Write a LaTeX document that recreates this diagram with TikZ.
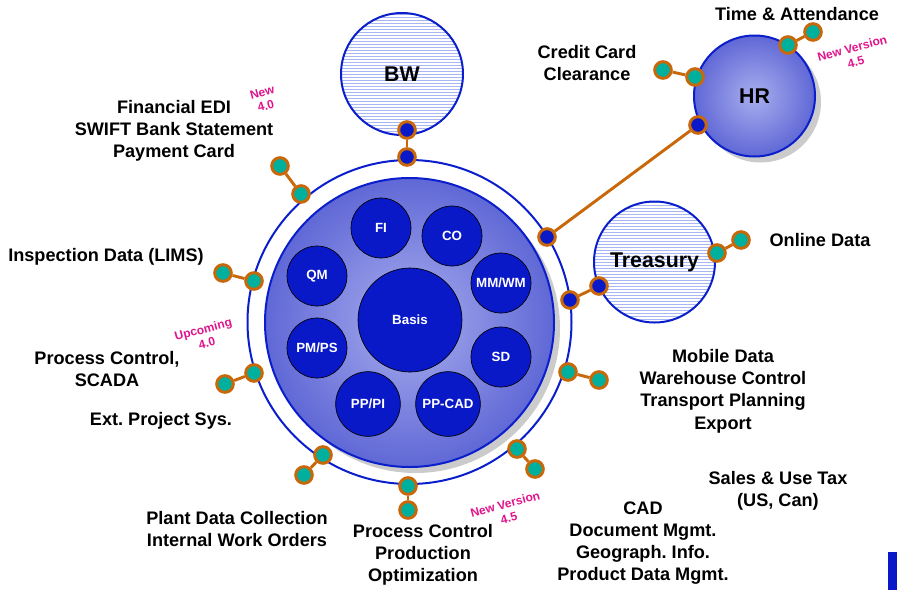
\documentclass[tikz,border=0pt]{standalone}
\usepackage{fontspec}
\setmainfont{Liberation Sans}
\definecolor{modblue}{HTML}{0A19C8}
\definecolor{ringblue}{HTML}{0A1ECC}
\definecolor{plugorange}{HTML}{C8680A}
\definecolor{plugteal}{HTML}{00B09E}
\definecolor{notepink}{HTML}{E0148C}
\definecolor{discin}{HTML}{A8AEEE}
\definecolor{discout}{HTML}{6068D6}
\definecolor{hatchblue}{HTML}{A8B6F4}
\definecolor{shadowgray}{HTML}{CBCBCB}
\tikzset{
    ring/.style={circle, draw=ringblue, line width=1.5pt, inner sep=0pt}, % 蓝色圆环
    disc/.style={ring, inner color=discin, outer color=discout}, % 渐变圆盘
    hatched/.style={ring, fill=white, path picture={
        \foreach \k in {-21,...,21}
            \draw[hatchblue, line width=0.7pt]
                ([yshift=\k*2.25pt]path picture bounding box.west) --
                ([yshift=\k*2.25pt]path picture bounding box.east);
    }}, % 横线填充
    module/.style={circle, draw=black, line width=0.5pt, fill=modblue, text=white, inner sep=0pt,
        font=\bfseries\fontsize{10}{12}\selectfont},
    plug/.style={circle, draw=plugorange, line width=2.2pt, inner sep=0pt, minimum size=12.5pt},
    green plug/.style={plug, fill=plugteal},
    blue plug/.style={plug, fill=modblue},
    link/.style={draw=plugorange, line width=2.2pt},
    addon/.style={align=center, font=\bfseries\fontsize{13.6}{16.7}\selectfont},
    big/.style={font=\bfseries\fontsize{16}{18}\selectfont},
    note/.style={text=notepink, align=center, rotate=15, inner sep=0pt,
        font=\bfseries\fontsize{9}{10.5}\selectfont}
}
\begin{document}
\begin{tikzpicture}[x=0.75pt, y=-0.75pt]
    \useasboundingbox (0,0) rectangle (897,590);

    % --- 1. 阴影 ---
    \node[circle, fill=shadowgray, minimum size=216.75pt] (discshadow) at (415.5,328.5) {};
    \node[circle, fill=shadowgray, minimum size=90.75pt] (hrshadow) at (760.5,102) {};

    % --- 2. 中心系统 ---
    \node[ring, minimum size=243pt] (outer) at (409.5,322) {};
    \node[disc, minimum size=216.75pt] (core) at (409.5,322.5) {};
    \node[module, minimum size=78pt] (basis) at (410,320) {Basis};
    \foreach \name / \x / \y / \size / \labelText in {
        fi/381/228/45/{FI},
        co/452/236/45/{CO},
        mm/501/283/45/{MM/WM},
        sd/501/357/45/{SD},
        ppcad/448/404/48.5/{PP-CAD},
        pppi/368/404/48.5/{PP/PI},
        pmps/317/348/45/{PM/PS},
        qm/317/276/45/{QM}
    } {
        \node[module, minimum size=\size pt] (\name) at (\x,\y) {\labelText};
    }

    % --- 3. 外围系统 ---
    \node[hatched, minimum size=91.5pt, big] (bw) at (402,74) {BW};
    \node[hatched, minimum size=90.75pt, big] (treasury) at (654.5,262) {Treasury};
    \node[disc, minimum size=90.75pt, big] (hr) at (754.5,96) {HR};

    % --- 4. 接口: 名称 / 内点 / 外点 ---
    \foreach \name / \ax / \ay / \bx / \by in {
        fin/301/194/280/166,
        insp/254/281/223/273,
        scada/254/373/225/384,
        plant/323/455/304/475,
        proc/408/486/408/510,
        cad/517/449/535/469,
        mobile/568/372/599/380,
        online/717/253/741/240,
        credit/695/77/663/70,
        time/788/45/813/32
    } {
        \node[green plug] (\name-in) at (\ax,\ay) {};
        \node[green plug] (\name-out) at (\bx,\by) {};
        \draw[link] (\name-in) -- (\name-out);
    }
    \foreach \name / \ax / \ay / \bx / \by in {
        bwlink/407/157/407/130,
        trlink/570/300/599/286,
        hrlink/547/237/698/125
    } {
        \node[blue plug] (\name-in) at (\ax,\ay) {};
        \node[blue plug] (\name-out) at (\bx,\by) {};
        \draw[link] (\name-in) -- (\name-out);
    }

    % --- 5. 文字 ---
    \node[addon] (fintext) at (174,131) {Financial EDI\\SWIFT Bank Statement\\Payment Card};
    \node[addon] (insptext) at (106,257) {Inspection Data (LIMS)};
    \node[addon] (scadatext) at (107,369) {Process Control,\\SCADA};
    \node[addon] (exttext) at (161,421) {Ext.\ Project Sys.};
    \node[addon] (planttext) at (237,529) {Plant Data Collection\\Internal Work Orders};
    \node[addon] (proctext) at (423,555) {Process Control\\Production\\Optimization};
    \node[addon] (cadtext) at (643,543) {CAD\\Document Mgmt.\\Geograph.\ Info.\\Product Data Mgmt.};
    \node[addon] (taxtext) at (778,491) {Sales \& Use Tax\\(US, Can)};
    \node[addon] (mobiletext) at (723,391) {Mobile Data\\Warehouse Control\\Transport Planning\\Export};
    \node[addon] (onlinetext) at (820,240) {Online Data};
    \node[addon] (credittext) at (587,63) {Credit Card\\Clearance};
    \node[addon] (timetext) at (797,14) {Time \& Attendance};

    % --- 6. 版本标记 ---
    \node[note] (newfin) at (264,99) {New\\4.0};
    \node[note] (upcoming) at (205,336) {Upcoming\\4.0};
    \node[note] (newproc) at (507,511) {New Version\\4.5};
    \node[note] (newhr) at (854,55) {New Version\\4.5};

    \fill[modblue] (888,552) rectangle (897,590);
\end{tikzpicture}
\end{document}
